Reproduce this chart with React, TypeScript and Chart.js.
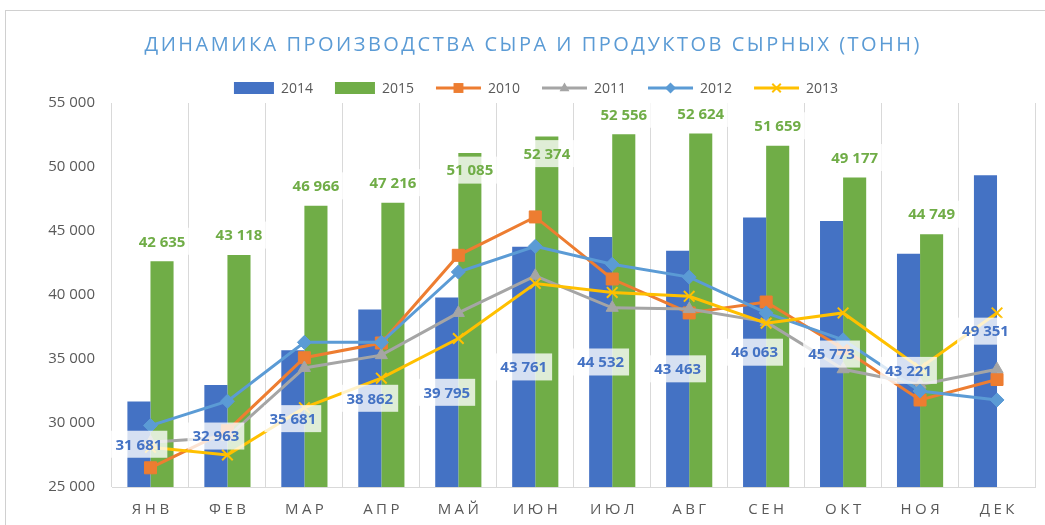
import React, { useEffect, useRef } from 'react';
import { Chart, registerables } from 'chart.js';

Chart.register(...registerables);

const TITLE = 'ДИНАМИКА ПРОИЗВОДСТВА СЫРА И ПРОДУКТОВ СЫРНЫХ (ТОНН)';
const MONTHS = ['ЯНВ', 'ФЕВ', 'МАР', 'АПР', 'МАЙ', 'ИЮН', 'ИЮЛ', 'АВГ', 'СЕН', 'ОКТ', 'НОЯ', 'ДЕК'];
const Y_MIN = 25000;
const Y_MAX = 55000;
const Y_STEP = 5000;

const S2014 = [31681, 32963, 35681, 38862, 39795, 43761, 44532, 43463, 46063, 45773, 43221, 49351];
const S2015 = [42635, 43118, 46966, 47216, 51085, 52374, 52556, 52624, 51659, 49177, 44749, null];
const S2010 = [26500, 29400, 35100, 36250, 43100, 46100, 41250, 38600, 39450, 35800, 31800, 33400];
const S2011 = [28500, 28900, 34300, 35300, 38600, 41500, 39000, 38900, 37900, 34200, 33000, 34200];
const S2012 = [29800, 31700, 36300, 36300, 41800, 43800, 42400, 41400, 38600, 36500, 32500, 31800];
const S2013 = [28100, 27500, 31200, 33500, 36600, 40900, 40200, 39900, 37800, 38600, 34300, 38600];

// months whose 2015 label sits just inside the bar top (as in the reference)
const GREEN_LABEL_INSIDE = ['МАЙ', 'ИЮН'];

const C2014 = '#4472C4';
const C2015 = '#70AD47';
const C2010 = '#ED7D31';
const C2011 = '#A5A5A5';
const C2012 = '#5B9BD5';
const C2013 = '#FFC000';
const FONT = '"Open Sans", "DejaVu Sans", sans-serif';
const TEXT_GRAY = '#595959';

const fmt = (v: number) => Math.round(v).toString().replace(/\B(?=(\d{3})+(?!\d))/g, ' ');

function drawSpaced(ctx: CanvasRenderingContext2D, text: string, cx: number, y: number, spacing: number) {
  const chars = Array.from(text);
  const widths = chars.map((c) => ctx.measureText(c).width);
  const total = widths.reduce((a, b) => a + b, 0) + spacing * (chars.length - 1);
  let x = cx - total / 2;
  ctx.textAlign = 'left';
  chars.forEach((c, i) => {
    ctx.fillText(c, x, y);
    x += widths[i] + spacing;
  });
}

function labelBox(ctx: CanvasRenderingContext2D, text: string, x: number, y: number, color: string, padX: number, h: number, bg: string) {
  const w = ctx.measureText(text).width;
  ctx.fillStyle = bg;
  ctx.fillRect(x - w / 2 - padX, y - h / 2, w + padX * 2, h);
  ctx.fillStyle = color;
  ctx.textAlign = 'center';
  ctx.textBaseline = 'middle';
  ctx.fillText(text, x, y + 1);
}

function drawMarker(ctx: CanvasRenderingContext2D, style: string, x: number, y: number, r: number) {
  ctx.beginPath();
  if (style === 'rect') {
    const s = Math.SQRT1_2 * r;
    ctx.rect(x - s, y - s, 2 * s, 2 * s);
    ctx.fill();
  } else if (style === 'rectRot') {
    ctx.moveTo(x, y - r);
    ctx.lineTo(x + r, y);
    ctx.lineTo(x, y + r);
    ctx.lineTo(x - r, y);
    ctx.closePath();
    ctx.fill();
  } else if (style === 'triangle') {
    ctx.moveTo(x, y - r);
    ctx.lineTo(x + r * 0.9, y + r * 0.6);
    ctx.lineTo(x - r * 0.9, y + r * 0.6);
    ctx.closePath();
    ctx.fill();
  } else if (style === 'crossRot') {
    const s = r * Math.SQRT1_2;
    ctx.moveTo(x - s, y - s);
    ctx.lineTo(x + s, y + s);
    ctx.moveTo(x + s, y - s);
    ctx.lineTo(x - s, y + s);
    ctx.stroke();
  }
}

const decorPlugin = {
  id: 'decor',
  beforeDraw(chart: any) {
    const ctx = chart.ctx as CanvasRenderingContext2D;
    ctx.save();
    ctx.strokeStyle = '#D0D0D0';
    ctx.lineWidth = 1;
    ctx.strokeRect(5.5, 10.5, chart.width + 20, chart.height + 20);
    ctx.restore();
  },
  afterDatasetsDraw(chart: any) {
    const ctx = chart.ctx as CanvasRenderingContext2D;
    const bottom = chart.chartArea.bottom;
    ctx.save();
    ctx.font = `bold 15px ${FONT}`;
    const m0 = chart.getDatasetMeta(0);
    m0.data.forEach((bar: any, i: number) => {
      const v = S2014[i];
      if (v == null) return;
      const base = Math.min(bar.base, bottom);
      const y = (bar.y + base) / 2;
      labelBox(ctx, fmt(v), bar.x, y, C2014, 5, 27, 'rgba(255,255,255,0.78)');
    });
    const m1 = chart.getDatasetMeta(1);
    m1.data.forEach((bar: any, i: number) => {
      const v = S2015[i];
      if (v == null) return;
      const inside = GREEN_LABEL_INSIDE.includes(MONTHS[i]);
      const y = inside ? bar.y + 17 : bar.y - 20;
      labelBox(ctx, fmt(v), bar.x, y, C2015, 5, 27, 'rgba(255,255,255,0.78)');
    });
    ctx.restore();
  },
  afterDraw(chart: any) {
    const ctx = chart.ctx as CanvasRenderingContext2D;
    ctx.save();
    // title
    ctx.font = `20px ${FONT}`;
    ctx.fillStyle = C2012;
    ctx.textBaseline = 'middle';
    {
      const chars = Array.from(TITLE);
      const raw = chars.reduce((a, c) => a + ctx.measureText(c).width, 0);
      const spacing = Math.max(0, (775 - raw) / (chars.length - 1));
      drawSpaced(ctx, TITLE, 532, 45, spacing);
    }
    // legend
    ctx.font = `14px ${FONT}`;
    const items = [
      { t: '2014', type: 'box', c: C2014 },
      { t: '2015', type: 'box', c: C2015 },
      { t: '2010', type: 'line', c: C2010, p: 'rect' },
      { t: '2011', type: 'line', c: C2011, p: 'triangle' },
      { t: '2012', type: 'line', c: C2012, p: 'rectRot' },
      { t: '2013', type: 'line', c: C2013, p: 'crossRot' },
    ];
    const symW = (it: any) => (it.type === 'box' ? 40 : 45);
    const gapT = 7;
    const gapI = 22;
    let total = 0;
    items.forEach((it, i) => {
      total += symW(it) + gapT + ctx.measureText(it.t).width + (i < items.length - 1 ? gapI : 0);
    });
    let x = 536 - total / 2;
    const ly = 88;
    items.forEach((it: any) => {
      const sw = symW(it);
      if (it.type === 'box') {
        ctx.fillStyle = it.c;
        ctx.fillRect(x, ly - 6, sw, 12);
      } else {
        ctx.strokeStyle = it.c;
        ctx.lineWidth = 3;
        ctx.beginPath();
        ctx.moveTo(x, ly);
        ctx.lineTo(x + sw, ly);
        ctx.stroke();
        ctx.fillStyle = it.c;
        ctx.strokeStyle = it.c;
        ctx.lineWidth = 2;
        const r = it.p === 'rect' ? 7 : it.p === 'crossRot' ? 6 : 5.5;
        drawMarker(ctx, it.p, x + sw / 2, ly, r);
      }
      x += sw + gapT;
      ctx.fillStyle = TEXT_GRAY;
      ctx.textAlign = 'left';
      ctx.textBaseline = 'middle';
      ctx.fillText(it.t, x, ly + 1);
      x += ctx.measureText(it.t).width + gapI;
    });
    // x labels
    const xs = chart.scales.x;
    ctx.font = `15px ${FONT}`;
    ctx.fillStyle = TEXT_GRAY;
    ctx.textBaseline = 'middle';
    MONTHS.forEach((m, i) => {
      drawSpaced(ctx, m, xs.getPixelForValue(i), 510, 3.5);
    });
    ctx.restore();
  },
};

export default function App() {
  const ref = useRef<HTMLCanvasElement | null>(null);

  useEffect(() => {
    if (!ref.current) return;
    const lineDs = (label: string, data: number[], color: string, pointStyle: string, radius: number, order: number) => ({
      type: 'line' as const,
      label,
      data,
      borderColor: color,
      backgroundColor: color,
      borderWidth: 3,
      pointStyle,
      pointRadius: radius,
      pointBorderWidth: pointStyle === 'crossRot' ? 2 : 1,
      pointBackgroundColor: color,
      pointBorderColor: color,
      tension: 0,
      order,
    });
    const chart = new Chart(ref.current, {
      type: 'bar',
      data: {
        labels: MONTHS,
        datasets: [
          { type: 'bar', label: '2014', data: S2014, backgroundColor: C2014, order: 10, categoryPercentage: 0.6, barPercentage: 1 } as any,
          { type: 'bar', label: '2015', data: S2015, backgroundColor: C2015, order: 10, categoryPercentage: 0.6, barPercentage: 1 } as any,
          lineDs('2010', S2010, C2010, 'rect', 8.5, 4),
          lineDs('2011', S2011, C2011, 'triangle', 7, 3),
          lineDs('2012', S2012, C2012, 'rectRot', 7, 2),
          lineDs('2013', S2013, C2013, 'crossRot', 7.5, 1),
        ],
      },
      options: {
        animation: false,
        responsive: true,
        maintainAspectRatio: false,
        layout: { padding: { top: 103, right: 9, bottom: 0, left: 0 } },
        plugins: {
          legend: { display: false },
          title: { display: false },
          tooltip: { enabled: false },
        },
        scales: {
          x: {
            grid: { color: '#D9D9D9', lineWidth: 1, drawTicks: false, offset: true },
            border: { color: '#D9D9D9' },
            ticks: { display: false },
            afterFit: (s: any) => {
              s.height = 38;
            },
          },
          y: {
            min: Y_MIN,
            max: Y_MAX,
            grid: { display: false, drawTicks: false },
            border: { display: false },
            ticks: {
              stepSize: Y_STEP,
              padding: 17,
              color: TEXT_GRAY,
              font: { family: FONT, size: 15 },
              callback: (v: any) => fmt(Number(v)),
            },
            afterFit: (s: any) => {
              s.width = 112;
            },
          },
        },
      } as any,
      plugins: [decorPlugin],
    });
    return () => chart.destroy();
  }, []);

  return (
    <div style={{ position: 'fixed', left: 0, top: 0, width: 1045, height: 525 }}>
      <canvas ref={ref} />
    </div>
  );
}
